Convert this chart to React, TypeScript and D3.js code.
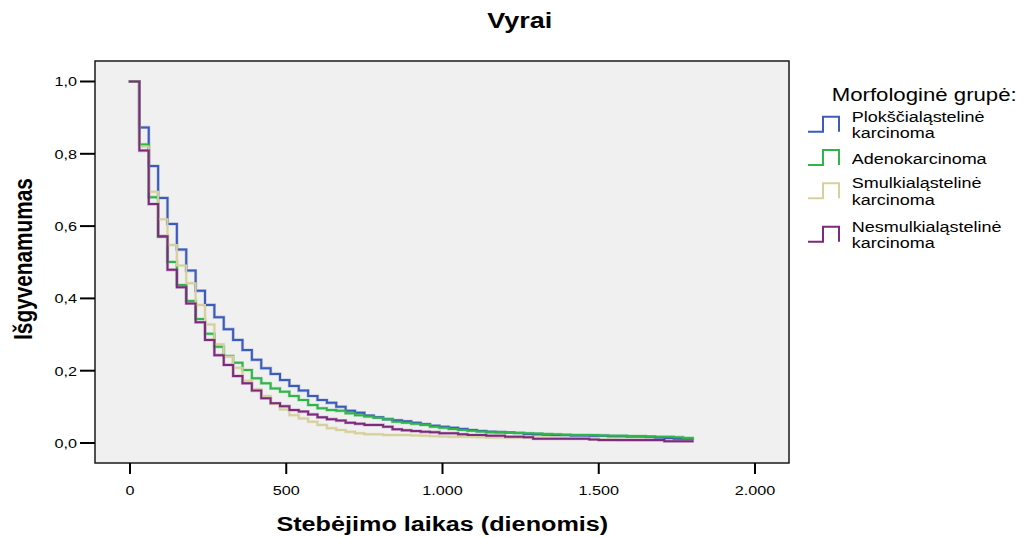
import React from "react";
import * as d3 from "d3";

// Kaplan–Meier survival by morphological group (men), 30-day steps
const stepDays = 30;
const groups = [
  "Plokščialąstelinė karcinoma",
  "Adenokarcinoma",
  "Smulkialąstelinė karcinoma",
  "Nesmulkialąstelinė karcinoma",
];
const colors = ["#3d5cba", "#2fb54a", "#d6d19c", "#7b2a7e"];
const endDays = [1800, 1800, 1710, 1800];

const plokscialasteline = [
  1.0, 0.873, 0.766, 0.678, 0.606, 0.535, 0.477, 0.421, 0.382, 0.348,
  0.315, 0.285, 0.257, 0.23, 0.207, 0.191, 0.174, 0.158, 0.145, 0.13,
  0.119, 0.111, 0.1, 0.089, 0.084, 0.076, 0.071, 0.066, 0.063, 0.06,
  0.056, 0.052, 0.048, 0.045, 0.042, 0.039, 0.036, 0.033, 0.031, 0.03,
  0.029, 0.028, 0.025, 0.024, 0.023, 0.022, 0.022, 0.021, 0.021, 0.02,
  0.02, 0.019, 0.019, 0.018, 0.018, 0.017, 0.015, 0.014, 0.012, 0.012,
];
const adenokarcinoma = [
  1.0, 0.826, 0.68, 0.57, 0.501, 0.437, 0.393, 0.343, 0.302, 0.266,
  0.241, 0.222, 0.202, 0.179, 0.165, 0.151, 0.142, 0.13, 0.119, 0.105,
  0.096, 0.091, 0.089, 0.082, 0.077, 0.073, 0.07, 0.066, 0.059, 0.056,
  0.053, 0.05, 0.045, 0.042, 0.039, 0.036, 0.034, 0.032, 0.03, 0.03,
  0.029, 0.028, 0.027, 0.026, 0.025, 0.024, 0.023, 0.022, 0.022, 0.022,
  0.021, 0.02, 0.02, 0.019, 0.019, 0.018, 0.017, 0.017, 0.016, 0.014,
];
const smulkialasteline = [
  1.0, 0.82, 0.695, 0.619, 0.548, 0.491, 0.442, 0.382, 0.328, 0.273,
  0.239, 0.208, 0.172, 0.149, 0.13, 0.108, 0.093, 0.077, 0.068, 0.059,
  0.05, 0.041, 0.036, 0.031, 0.027, 0.024, 0.024, 0.022, 0.022, 0.022,
  0.021, 0.02, 0.019, 0.018, 0.017, 0.017, 0.017, 0.016, 0.015, 0.015,
  0.015, 0.015, 0.015, 0.015, 0.015, 0.013, 0.013, 0.013, 0.013, 0.013,
  0.01, 0.01, 0.008, 0.008, 0.008, 0.008, 0.008,
];
const nesmulkialasteline = [
  1.0, 0.809, 0.661, 0.572, 0.479, 0.431, 0.386, 0.334, 0.285, 0.243,
  0.216, 0.185, 0.165, 0.145, 0.124, 0.11, 0.102, 0.091, 0.087, 0.079,
  0.071, 0.066, 0.062, 0.056, 0.053, 0.05, 0.05, 0.045, 0.038, 0.035,
  0.033, 0.031, 0.03, 0.027, 0.027, 0.024, 0.022, 0.022, 0.02, 0.02,
  0.017, 0.017, 0.016, 0.012, 0.012, 0.012, 0.012, 0.012, 0.012, 0.01,
  0.008, 0.008, 0.008, 0.008, 0.008, 0.008, 0.008, 0.005, 0.005, 0.005,
];
const seriesValues = [plokscialasteline, adenokarcinoma, smulkialasteline, nesmulkialasteline];

const xTicks = [0, 500, 1000, 1500, 2000];
const yTicks = [0, 0.2, 0.4, 0.6, 0.8, 1.0];
const legendLines = [
  ["Plokščialąstelinė", "karcinoma"],
  ["Adenokarcinoma"],
  ["Smulkialąstelinė", "karcinoma"],
  ["Nesmulkialąstelinė", "karcinoma"],
];

const W = 1025;
const H = 537;
const frame = { left: 95, right: 789, top: 61, bottom: 463 };
const FONT = "'Liberation Sans', Arial, Helvetica, sans-serif";
// the whole figure is drawn with glyphs slightly wider than tall
const SX = 1.2;

const lt = d3.formatLocale({ decimal: ",", thousands: ".", grouping: [3], currency: ["", " €"] });
const fmtY = lt.format(".1f");
const fmtX = lt.format(",d");

type TProps = {
  x: number;
  y: number;
  size: number;
  anchor?: "start" | "middle" | "end";
  bold?: boolean;
  rotate?: number;
  children: React.ReactNode;
};

function T({ x, y, size, anchor = "start", bold = false, rotate = 0, children }: TProps) {
  return (
    <g transform={`translate(${x},${y}) scale(${SX},1) rotate(${rotate})`}>
      <text
        x={0}
        y={0}
        textAnchor={anchor}
        fontSize={size}
        fontWeight={bold ? "bold" : "normal"}
        fill="#000"
      >
        {children}
      </text>
    </g>
  );
}

export default function App() {
  const x = d3.scaleLinear().domain([0, 2000]).range([130, 755]);
  const y = d3.scaleLinear().domain([0, 1]).range([443, 81.5]);

  const line = d3
    .line<[number, number]>()
    .x((d) => x(d[0]))
    .y((d) => y(d[1]))
    .curve(d3.curveStepAfter);

  const paths = seriesValues.map((vals, i) => {
    const pts: [number, number][] = vals.map((v, k) => [k * stepDays, v]);
    pts.push([endDays[i], vals[vals.length - 1]]);
    return line(pts) || "";
  });

  const legendRows = [
    { iconTop: 116.7, baselines: [121.7, 138.3] },
    { iconTop: 150, baselines: [164] },
    { iconTop: 183.3, baselines: [188.3, 205] },
    { iconTop: 226.7, baselines: [231.7, 248.3] },
  ];

  return (
    <svg
      width={W}
      height={H}
      style={{ position: "absolute", left: 0, top: 0, display: "block", background: "#fff" }}
      fontFamily={FONT}
    >
      <rect x={0} y={0} width={W} height={H} fill="#fff" />
      <T x={519.7} y={28.3} size={22.5} anchor="middle" bold>
        Vyrai
      </T>

      {/* plot background */}
      <rect
        x={frame.left}
        y={frame.top}
        width={frame.right - frame.left}
        height={frame.bottom - frame.top}
        fill="#f0f0f0"
      />

      {/* survival curves */}
      <g fill="none" strokeLinejoin="miter" strokeLinecap="square">
        {paths.map((d, i) => (
          <path key={"h" + i} d={d} stroke={colors[i]} strokeWidth={3.2} strokeOpacity={0.3} />
        ))}
        {paths.map((d, i) => (
          <path key={"p" + i} d={d} stroke={colors[i]} strokeWidth={2} />
        ))}
      </g>

      <rect
        x={frame.left}
        y={frame.top}
        width={frame.right - frame.left}
        height={frame.bottom - frame.top}
        fill="none"
        stroke="#1a1a1a"
        strokeWidth={1.5}
      />

      {/* y axis */}
      {yTicks.map((t) => (
        <g key={"y" + t}>
          <line x1={80} x2={frame.left} y1={y(t)} y2={y(t)} stroke="#000" strokeWidth={2} />
          <T x={77} y={y(t) + 4.8} size={13.5} anchor="end">
            {fmtY(t)}
          </T>
        </g>
      ))}

      {/* x axis */}
      {xTicks.map((t) => (
        <g key={"x" + t}>
          <line x1={x(t)} x2={x(t)} y1={frame.bottom} y2={474} stroke="#000" strokeWidth={2} />
          <T x={x(t)} y={494.5} size={13.5} anchor="middle">
            {fmtX(t)}
          </T>
        </g>
      ))}

      <T x={442.3} y={531.3} size={21} anchor="middle" bold>
        Stebėjimo laikas (dienomis)
      </T>
      <T x={31.5} y={259} size={20.8} anchor="middle" bold rotate={-90}>
        Išgyvenamumas
      </T>

      {/* legend */}
      <T x={831.7} y={100.5} size={18.5}>
        Morfologinė grupė:
      </T>
      {legendRows.map((row, i) => {
        const top = row.iconTop;
        const bot = top + 15;
        const d = `M808,${bot}H823V${top}H839V${bot}`;
        return (
          <g key={"lg" + i}>
            <path d={d} fill="none" stroke={colors[i]} strokeWidth={2} />
            {legendLines[i].map((s, j) => (
              <T key={j} x={851.7} y={row.baselines[j]} size={15}>
                {s}
              </T>
            ))}
          </g>
        );
      })}
    </svg>
  );
}
